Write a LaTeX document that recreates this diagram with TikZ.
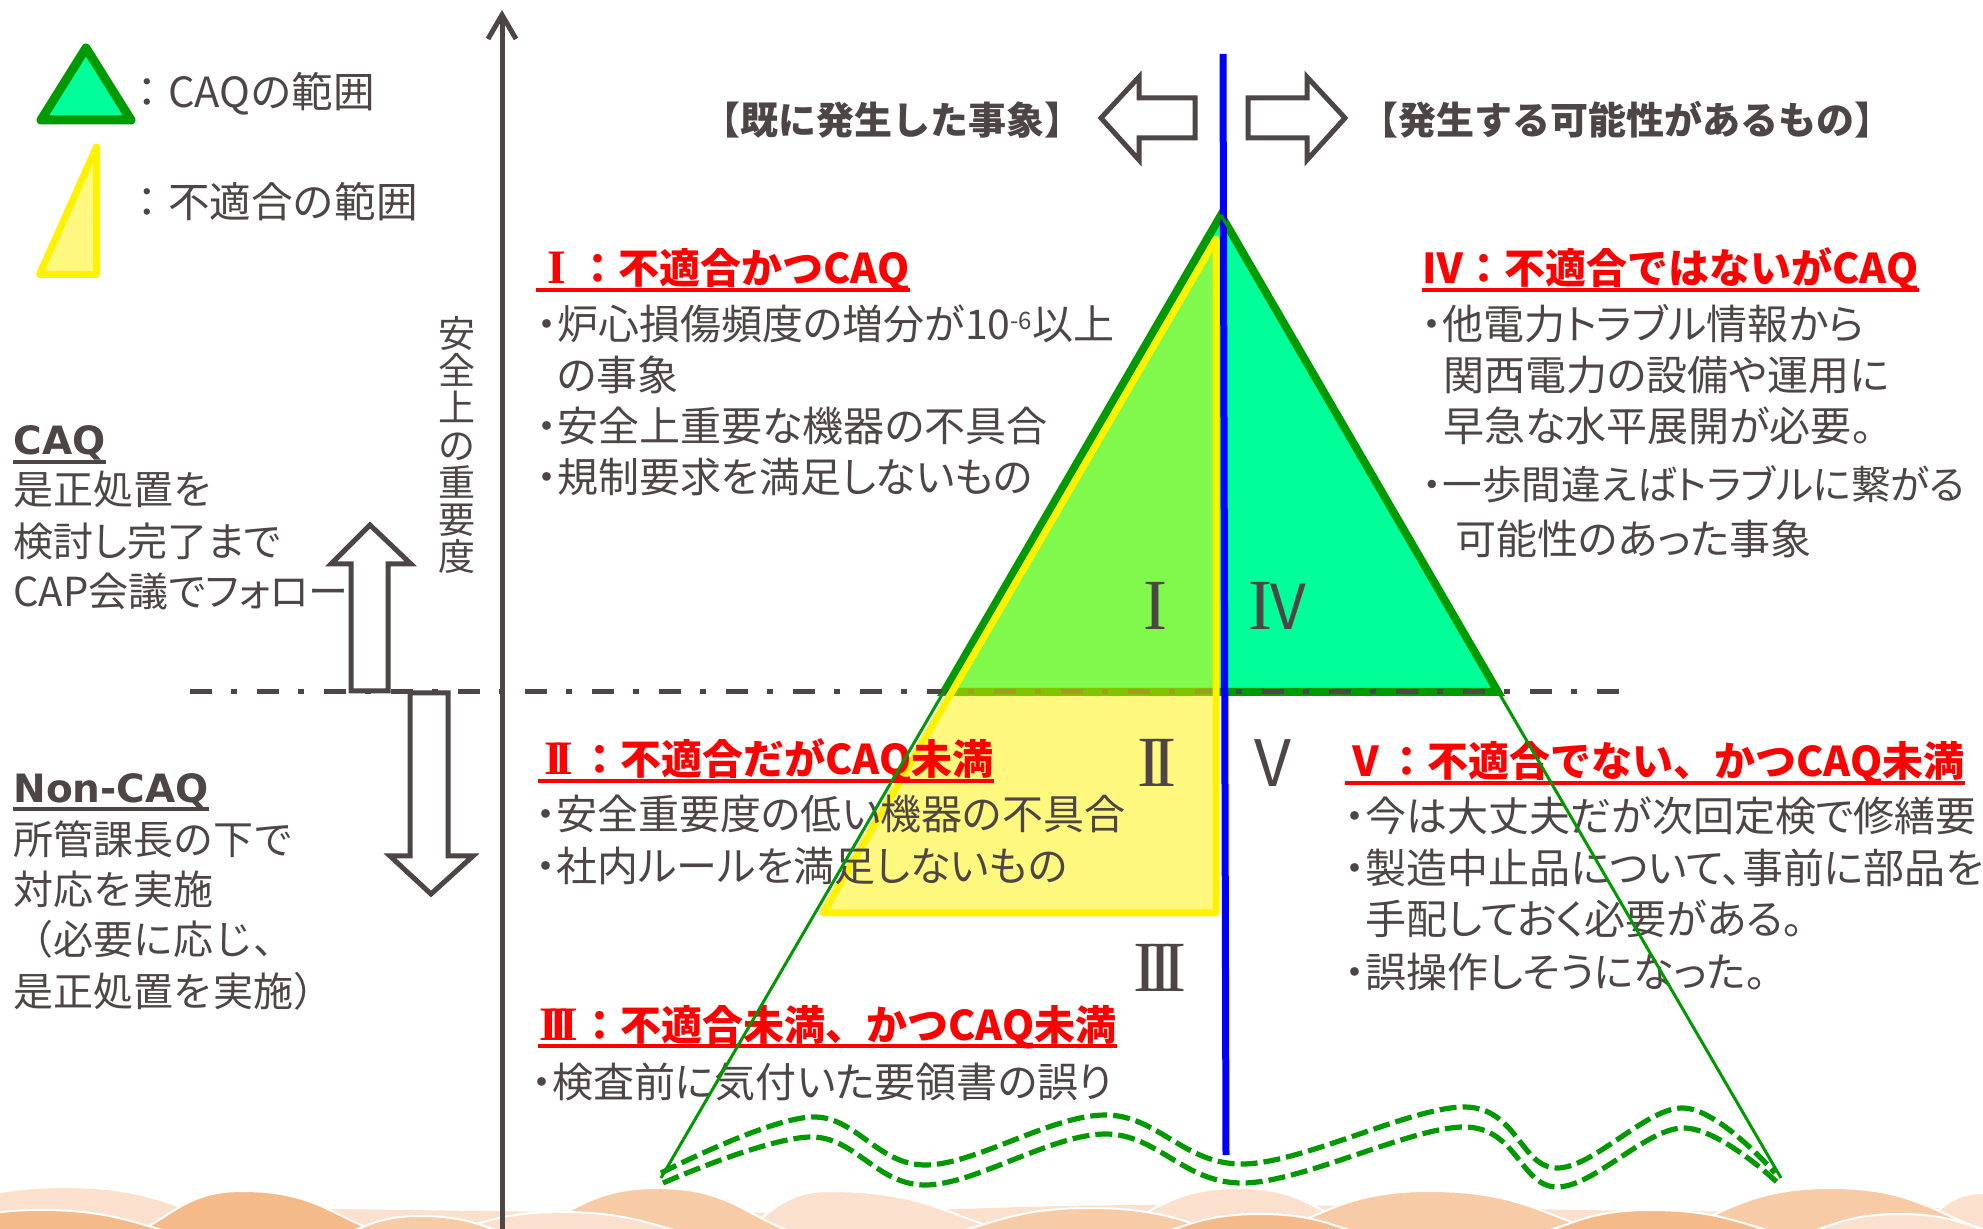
\documentclass[tikz,border=0pt]{standalone}
\usepackage{fontspec}
\newfontfamily\jp{Noto Sans CJK JP}
\newfontfamily\jpp[RawFeature=+palt]{Noto Sans CJK JP}
\newfontfamily\dvs{DejaVu Sans}
\newfontfamily\ser{Liberation Serif}
\usetikzlibrary{arrows.meta}
\definecolor{tgray}{RGB}{78,70,70}
\definecolor{dgreen}{RGB}{0,153,0}
\definecolor{sgreen}{RGB}{0,255,153}
\definecolor{pDark}{RGB}{244,186,138}
\definecolor{pMid}{RGB}{247,203,166}
\definecolor{pLight}{RGB}{251,225,205}
\newcommand{\bul}{\makebox[10pt][c]{\makebox[0pt][c]{\jp ・}}}
% heading numerals (full-width box)
\newcommand{\hnum}[1]{\makebox[20.5pt][c]{\ser\bfseries\fontsize{24}{24}\selectfont #1}}
\newcommand{\hump}[5]{\filldraw[fill=#5,draw=white,line width=1pt] (#1,1240) .. controls ({(#1+#2)/2},1240) and ({(#1+#2)/2},#4) .. (#2,#4) .. controls ({(#2+#3)/2},#4) and ({(#2+#3)/2},1240) .. (#3,1240) -- cycle;}
\begin{document}
\begin{tikzpicture}[x=0.5pt,y=-0.5pt,
  txt/.style={anchor=base west,inner sep=0,text=tgray,font=\jpp\fontsize{20.5}{24}\selectfont},
  plain/.style={anchor=base west,inner sep=0,text=tgray,font=\jp\fontsize{20}{24}\selectfont},
  lpal/.style={anchor=base west,inner sep=0,text=tgray,font=\jpp\fontsize{20}{24}\selectfont},
  legend/.style={anchor=base west,inner sep=0,text=tgray,font=\jp\fontsize{20.8}{24}\selectfont},
  head/.style={anchor=base west,inner sep=0,text=red,font=\jp\bfseries\fontsize{20.5}{24}\selectfont},
  ttl/.style={anchor=base,inner sep=0,text=tgray,font=\jp\bfseries\fontsize{19}{24}\selectfont},
  lbold/.style={anchor=base west,inner sep=0,text=tgray,font=\dvs\bfseries\fontsize{19.5}{24}\selectfont},
  roman/.style={anchor=base,inner sep=0,text=tgray,font=\ser\fontsize{36}{36}\selectfont},
  ulred/.style={draw=red,line width=1.8pt},
  ulgray/.style={draw=tgray,line width=1.6pt},
  blockarrow/.style={draw=tgray,fill=white,line width=2.5pt,line join=miter},
  thin/.style={draw=dgreen,line width=1.5pt},
  wave/.style={draw=dgreen,line width=2.6pt,dash pattern=on 8.5pt off 3pt},
]
\useasboundingbox (0,0) rectangle (1983,1229);
\fill[white] (0,0) rectangle (1983,1229);

% decorative band
\fill[pLight] (0,1240) -- (0,1212) .. controls (300,1200) and (600,1222) .. (990,1208) .. controls (1350,1196) and (1650,1222) .. (1983,1206) -- (1983,1240) -- cycle;
\hump{-200}{64}{330}{1187}{pLight}
\hump{700}{829}{1090}{1191}{pLight}
\hump{1050}{1238}{1420}{1188}{pLight}
\hump{1880}{1983}{2150}{1193}{pLight}
\hump{470}{657}{850}{1188}{pMid}
\hump{1200}{1429}{1680}{1191}{pMid}
\hump{1600}{1831}{2060}{1188}{pMid}
\hump{90}{242}{440}{1191}{pDark}
\hump{-150}{40}{250}{1210}{pDark}
\hump{380}{560}{760}{1212}{pLight}
\hump{880}{1090}{1300}{1208}{pMid}
\hump{1480}{1650}{1850}{1210}{pDark}
\hump{300}{420}{560}{1216}{pMid}
\hump{1100}{1260}{1420}{1214}{pDark}
\hump{1750}{1900}{2050}{1214}{pLight}

% coordinates of the pyramid
\coordinate (A) at (1221,215);
\coordinate (BL) at (944,692);
\coordinate (BR) at (1498,692);
\coordinate (L) at (661,1178);
\coordinate (R) at (1781,1178);

% CAQ triangle
\filldraw[fill=sgreen,draw=dgreen,line width=4pt,line join=miter] (A) -- (BL) -- (BR) -- cycle;

% dash-dot threshold line
\coordinate (dl) at (190,692);
\coordinate (dr) at (1622,692);
\draw[tgray,line width=2.5pt,dash pattern=on 11pt off 9.5pt on 3pt off 10pt] (dl) -- (dr);

% nonconformance region
\coordinate (Y1) at (1216,239);
\coordinate (Y2) at (823,913);
\coordinate (Y3) at (1216,913);
\filldraw[fill=yellow,fill opacity=0.5,draw=yellow,line width=3.5pt,line join=round] (Y1) -- (Y2) -- (Y3) -- cycle;

% blue divider
\coordinate (bt) at (1223,54);
\coordinate (bb) at (1226,1155);
\draw[blue,line width=3.5pt] (bt) -- (bb);

% axis
\coordinate (axb) at (502,1240);
\coordinate (axt) at (502,10);
\draw[tgray,line width=2.5pt,-{Straight Barb[length=12pt,width=14pt]}] (axb) -- (axt);
\node[anchor=center,inner sep=0,text=tgray,align=center,font=\jp\fontsize{18.5}{18.65}\selectfont] (vlab) at (457,445) {安\\全\\上\\の\\重\\要\\度};

% block arrows top
\draw[blockarrow] (1101,118) -- (1139,77) -- (1139,98) -- (1195,98) -- (1195,138) -- (1139,138) -- (1139,160) -- cycle;
\draw[blockarrow] (1248,98) -- (1307,98) -- (1307,77) -- (1345,118) -- (1307,160) -- (1307,138) -- (1248,138) -- cycle;
% block arrows left
\draw[blockarrow] (370,525) -- (411,564) -- (388,564) -- (388,691) -- (351,691) -- (351,564) -- (331,564) -- cycle;
\draw[blockarrow] (410,693) -- (448,693) -- (448,856) -- (473,856) -- (431,894) -- (390,856) -- (410,856) -- cycle;

% legend
\filldraw[fill=sgreen,draw=dgreen,line width=4.5pt,line join=round] (86,48) -- (41,120) -- (131,120) -- cycle;
\filldraw[fill=yellow!50,draw=yellow,line width=3.5pt,line join=round] (96.5,147) -- (39.5,274.5) -- (96.5,274.5) -- cycle;
\node[legend] (lg1) at (126,108) {：CAQの範囲};
\node[legend] (lg2) at (126,218) {：不適合の範囲};

% titles
\node[ttl] (t1) at (892,135) {【既に発生した事象】};
\node[ttl] (t2) at (1626,135) {【発生する可能性があるもの】};

% left panel
\node[lbold] (caq) at (13,455) {CAQ};
\draw[ulgray] ([yshift=-3.5pt]caq.base west) -- ([yshift=-3.5pt]caq.base east);
\node[plain] (c1) at (13,505) {是正処置を};
\node[lpal] (c2) at (13,557) {検討し完了まで};
\node[lpal] (c3) at (13,607) {CAP会議でフォロー};
\node[lbold] (ncaq) at (13,803) {Non-CAQ};
\draw[ulgray] ([yshift=-3pt]ncaq.base west) -- ([yshift=-3pt]ncaq.base east);
\node[plain] (n1) at (13,855) {所管課長の下で};
\node[plain] (n2) at (13,905) {対応を実施};
\node[plain] (n3) at (13,955) {（必要に応じ、};
\node[plain] (n4) at (13,1006) {是正処置を実施）};

% block I
\node[head] (h1) at (536,284) {\hnum{I}：不適合かつCAQ};
\draw[ulred] ([yshift=-3pt]h1.base west) -- ([yshift=-3pt]h1.base east);
\node[txt] (i1) at (537,340) {\bul 炉心損傷頻度の増分が10\raisebox{5pt}{\fontsize{12}{12}\selectfont -6}以上};
\node[txt] (i2) at (557,391) {の事象};
\node[txt] (i3) at (537,442) {\bul 安全上重要な機器の不具合};
\node[txt] (i4) at (537,493) {\bul 規制要求を満足しないもの};

% block IV
\node[head] (h4) at (1422,284) {Ⅳ：不適合ではないがCAQ};
\draw[ulred] ([yshift=-3pt]h4.base west) -- ([yshift=-3pt]h4.base east);
\node[txt] (v1) at (1422,340) {\bul 他電力トラブル情報から};
\node[txt] (v2) at (1443,391) {関西電力の設備や運用に};
\node[txt] (v3) at (1443,442) {早急な水平展開が必要。};
\node[txt,font=\jpp\fontsize{19.8}{24}\selectfont] (v4) at (1422,500) {\bul 一歩間違えばトラブルに繋がる};
\node[txt] (v5) at (1455,555) {可能性のあった事象};

% block II
\node[head] (h2) at (538,775) {\hnum{I\kern-4.5pt I}：不適合だがCAQ未満};
\draw[ulred] ([yshift=-3pt]h2.base west) -- ([yshift=-3pt]h2.base east);
\node[txt] (ii1) at (536,830) {\bul 安全重要度の低い機器の不具合};
\node[txt] (ii2) at (536,882) {\bul 社内ルールを満足しないもの};

% block III
\node[head] (h3) at (538,1040) {\hnum{I\kern-4.5pt I\kern-4.5pt I}：不適合未満、かつCAQ未満};
\draw[ulred] ([yshift=-3pt]h3.base west) -- ([yshift=-3pt]h3.base east);
\node[txt] (iii1) at (532,1097) {\bul 検査前に気付いた要領書の誤り};

% block V
\node[head] (h5) at (1345,777) {Ⅴ：不適合でない、かつCAQ未満};
\draw[ulred] ([yshift=-3pt]h5.base west) -- ([yshift=-3pt]h5.base east);
\node[txt] (f1) at (1345,832) {\bul 今は大丈夫だが次回定検で修繕要};
\node[txt] (f2) at (1345,884) {\bul 製造中止品について、事前に部品を};
\node[txt] (f3) at (1365,935) {手配しておく必要がある。};
\node[txt] (f4) at (1345,987) {\bul 誤操作しそうになった。};

% roman numerals
\node[roman] (r1) at (1155,630) {I};
\node[roman] (r4) at (1277,630) {I\kern-1pt{\jp\fontsize{31}{31}\selectfont V}};
\node[roman] (r2) at (1157,787) {I\kern-4.5pt I};
\node[roman] (r5) at (1273,787) {{\jp\fontsize{32}{32}\selectfont V}};
\node[roman] (r3) at (1160,992) {I\kern-4.5pt I\kern-4.5pt I};

% thin extension lines
\draw[thin] (A) -- (L);
\draw[thin] (A) -- (R);

% wavy dashed lines
\draw[wave] plot[smooth,tension=0.6] coordinates {(661,1173) (812,1117) (926,1165) (1105,1115) (1244,1164) (1465,1107) (1557,1168) (1683,1108) (1775,1173)};
\draw[wave] plot[smooth,tension=0.6] coordinates {(663,1183) (812,1137) (926,1185) (1105,1134) (1244,1183) (1465,1127) (1557,1187) (1683,1128) (1779,1184)};
\end{tikzpicture}
\end{document}
